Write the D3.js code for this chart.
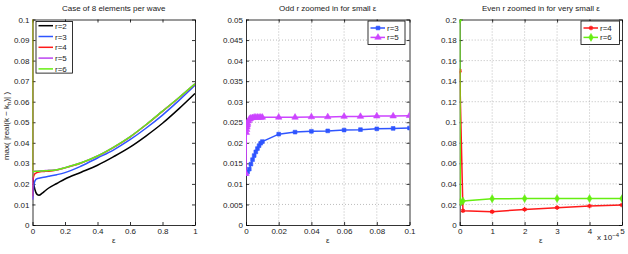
<!DOCTYPE html>
<html>
<head>
<meta charset="utf-8">
<script src="https://cdnjs.cloudflare.com/ajax/libs/d3/7.8.5/d3.min.js"></script>
<style>
body{margin:0;background:#fff}
svg{font-family:"Liberation Sans",Arial,sans-serif;font-size:8px}
</style>
</head>
<body>
<svg id="chart" width="628" height="254"></svg>
<script>
// ---- panel 1 : whole eps range 0..1
var eps1 = [0, 0.00001, 0.0005, 0.002, 0.005, 0.01, 0.02, 0.03, 0.04, 0.06, 0.08, 0.1, 0.15, 0.2, 0.3, 0.4, 0.5, 0.6, 0.7, 0.8, 0.9, 1.0];
var r2_1 = [0.0245, 0.0245, 0.0240, 0.0235, 0.0220, 0.0190, 0.0160, 0.0148, 0.0145, 0.0155, 0.0168, 0.0180, 0.0202, 0.0224, 0.0257, 0.0291, 0.0333, 0.0379, 0.0434, 0.0495, 0.0565, 0.0640];
var r3_1 = [0.0125, 0.0125, 0.0127, 0.0135, 0.0170, 0.0203, 0.0221, 0.0226, 0.0228, 0.0231, 0.0234, 0.0237, 0.0245, 0.0255, 0.0287, 0.0326, 0.0366, 0.0415, 0.0472, 0.0535, 0.0605, 0.0680];
var r4_1 = [0.15, 0.0140, 0.0200, 0.0215, 0.0230, 0.0243, 0.0252, 0.0256, 0.0258, 0.0260, 0.0261, 0.0262, 0.0268, 0.0278, 0.0302, 0.0335, 0.0378, 0.0428, 0.0488, 0.0553, 0.0618, 0.0686];
var r5_1 = [0.0125, 0.0125, 0.0235, 0.0256, 0.0261, 0.0262, 0.0262, 0.0262, 0.0263, 0.0264, 0.0265, 0.0266, 0.0269, 0.0279, 0.0303, 0.0336, 0.0379, 0.0429, 0.0489, 0.0554, 0.0619, 0.0687];
var r6_1 = [0.2, 0.0235, 0.0260, 0.0260, 0.0260, 0.0260, 0.0261, 0.0261, 0.0262, 0.0263, 0.0264, 0.0265, 0.0269, 0.0279, 0.0303, 0.0336, 0.0379, 0.0429, 0.0489, 0.0554, 0.0619, 0.0687];

// ---- panel 2 : odd r, small eps
var eps3 = [0, 0.001, 0.002, 0.003, 0.004, 0.005, 0.006, 0.007, 0.008, 0.009, 0.01, 0.02, 0.03, 0.04, 0.05, 0.06, 0.07, 0.08, 0.09, 0.1];
var r3_2 = [0.0125, 0.0129, 0.0136, 0.0148, 0.0159, 0.0169, 0.0178, 0.0186, 0.0193, 0.0199, 0.0203, 0.0221, 0.0226, 0.0228, 0.0229, 0.0231, 0.0232, 0.0234, 0.0235, 0.0236, 0.0237];
var eps5 = [0, 0.0002, 0.0004, 0.0006, 0.0008, 0.001, 0.0015, 0.002, 0.0025, 0.003, 0.004, 0.005, 0.006, 0.007, 0.008, 0.009, 0.01, 0.02, 0.03, 0.04, 0.05, 0.06, 0.07, 0.08, 0.09, 0.1];
var r5_2 = [0.0125, 0.0225, 0.0232, 0.0238, 0.0243, 0.0247, 0.0253, 0.0257, 0.0259, 0.0260, 0.0261, 0.0262, 0.0262, 0.0262, 0.0262, 0.0262, 0.0262, 0.0262, 0.0262, 0.0263, 0.0263, 0.0264, 0.0264, 0.0265, 0.0265, 0.0266];

// ---- panel 3 : even r, very small eps (x 1e-4)
var eps4 = [0, 0.1, 1, 2, 3, 4, 5];
var r4_3 = [0.15, 0.0138, 0.0130, 0.0152, 0.0169, 0.0185, 0.0195];
var eps6 = [0, 0.02, 0.1, 1, 2, 3, 4, 5];
var r6_3 = [0.2, 0.0224, 0.0233, 0.0256, 0.0257, 0.0257, 0.0257, 0.0257];

var titles = ["Case of 8 elements per wave", "Odd r zoomed in for small \u03b5", "Even r zoomed in for very small \u03b5"];
var xTicks1 = [0, 0.2, 0.4, 0.6, 0.8, 1];
var yTicks1 = d3.range(0, 0.1001, 0.01);
var xTicks2 = [0, 0.02, 0.04, 0.06, 0.08, 0.1];
var yTicks2 = d3.range(0, 0.05001, 0.005);
var xTicks3 = [0, 1, 2, 3, 4, 5];
var yTicks3 = d3.range(0, 0.2001, 0.02);

var col = {r2: "#000000", r3: "#2f55ff", r4: "#ff1a1a", r5: "#bb44f0", r6: "#66ee11"};
var fmt = function(d) { return d === 0 ? "0" : String(+d.toFixed(4)); };

var svg = d3.select("#chart");
var plotTop = 19.5, plotBottom = 225;

function zip(xs, ys) { return xs.map(function(x, i) { return [x, ys[i]]; }); }

function panel(id, left, right, xdom, ydom, xt, yt, grid) {
  var x = d3.scaleLinear().domain(xdom).range([left, right]);
  var y = d3.scaleLinear().domain(ydom).range([plotBottom, plotTop]);
  var g = svg.append("g");

  svg.append("clipPath").attr("id", "clip" + id)
    .append("rect").attr("x", left).attr("y", plotTop).attr("width", right - left).attr("height", plotBottom - plotTop);

  if (grid) {
    g.selectAll(".gx").data(xt.slice(1, -1)).enter().append("line")
      .attr("x1", d => x(d)).attr("x2", d => x(d)).attr("y1", plotTop).attr("y2", plotBottom)
      .attr("stroke", "#a0a0a0").attr("stroke-width", 0.7).attr("stroke-dasharray", "1,2");
    g.selectAll(".gy").data(yt.slice(1, -1)).enter().append("line")
      .attr("x1", left).attr("x2", right).attr("y1", d => y(d)).attr("y2", d => y(d))
      .attr("stroke", "#a0a0a0").attr("stroke-width", 0.7).attr("stroke-dasharray", "1,2");
  }

  var ax = [
    d3.axisBottom(x).tickValues(xt).tickFormat(fmt).tickSizeInner(-3).tickSizeOuter(0).tickPadding(3),
    d3.axisLeft(y).tickValues(yt).tickFormat(fmt).tickSizeInner(-3).tickSizeOuter(0).tickPadding(3),
    d3.axisTop(x).tickValues(xt).tickFormat("").tickSizeInner(-3).tickSizeOuter(0),
    d3.axisRight(y).tickValues(yt).tickFormat("").tickSizeInner(-3).tickSizeOuter(0)
  ];
  var pos = ["translate(0," + plotBottom + ")", "translate(" + left + ",0)", "translate(0," + plotTop + ")", "translate(" + right + ",0)"];
  ax.forEach(function(a, i) {
    var s = g.append("g").attr("transform", pos[i]).call(a);
    s.attr("font-family", null).attr("font-size", null);
    s.selectAll("text").attr("fill", "#222");
    s.selectAll("path,line").attr("stroke", "#000").attr("stroke-width", 0.8);
  });

  g.append("text").attr("x", (left + right) / 2).attr("y", 11).attr("text-anchor", "middle")
    .attr("fill", "#222").text(titles[id]);
  g.append("text").attr("x", (left + right) / 2).attr("y", 243).attr("text-anchor", "middle")
    .attr("fill", "#222").text("\u03b5");

  return {x: x, y: y, g: g, clip: "url(#clip" + id + ")"};
}

function series(p, pts, color, curve, sym, symSize) {
  var line = d3.line().x(d => p.x(d[0])).y(d => p.y(d[1])).curve(curve || d3.curveLinear);
  var gg = p.g.append("g").attr("clip-path", p.clip);
  gg.append("path").datum(pts).attr("d", line).attr("fill", "none")
    .attr("stroke", color).attr("stroke-width", 1.5);
  if (sym) {
    var isLine = sym === d3.symbolAsterisk;
    gg.selectAll(".m").data(pts).enter().append("path")
      .attr("transform", d => "translate(" + p.x(d[0]) + "," + p.y(d[1]) + ")")
      .attr("d", d3.symbol().type(sym).size(symSize))
      .attr("fill", isLine ? "none" : color)
      .attr("stroke", color).attr("stroke-width", isLine ? 1.4 : 0.6);
  }
}

// step / pad differ a bit between the big and small legends
function legend(p, x0, y0, w, step, pad, items) {
  var h = (items.length - 1) * step + 2 * pad;
  p.g.append("rect").attr("x", x0).attr("y", y0).attr("width", w).attr("height", h)
    .attr("fill", "#fff").attr("stroke", "#000").attr("stroke-width", 0.8);
  items.forEach(function(it, i) {
    var yy = y0 + pad + i * step;
    p.g.append("line").attr("x1", x0 + 2.5).attr("x2", x0 + 17).attr("y1", yy).attr("y2", yy)
      .attr("stroke", it.color).attr("stroke-width", 1.5);
    if (it.sym) {
      var isLine = it.sym === d3.symbolAsterisk;
      p.g.append("path").attr("transform", "translate(" + (x0 + 10) + "," + yy + ")")
        .attr("d", d3.symbol().type(it.sym).size(it.size))
        .attr("fill", isLine ? "none" : it.color).attr("stroke", it.color).attr("stroke-width", isLine ? 1.4 : 0.6);
    }
    p.g.append("text").attr("x", x0 + 19).attr("y", yy + 3).attr("fill", "#222").text(it.label);
  });
}

// panel 1
var p1 = panel(0, 32.5, 195, [0, 1], [0, 0.1], xTicks1, yTicks1, false);
series(p1, zip(eps1, r2_1), col.r2, d3.curveMonotoneX);
series(p1, zip(eps1, r3_1), col.r3, d3.curveMonotoneX);
series(p1, zip(eps1, r4_1), col.r4, d3.curveMonotoneX);
series(p1, zip(eps1, r5_1), col.r5, d3.curveMonotoneX);
series(p1, zip(eps1, r6_1), col.r6, d3.curveMonotoneX);
legend(p1, 36, 21.5, 36.5, 10.8, 4.2, [
  {label: "r=2", color: col.r2}, {label: "r=3", color: col.r3}, {label: "r=4", color: col.r4},
  {label: "r=5", color: col.r5}, {label: "r=6", color: col.r6}
]);

var ylab = svg.append("text").attr("transform", "translate(9,126) rotate(-90)")
  .attr("text-anchor", "middle").attr("fill", "#222");
ylab.append("tspan").text("max( |real(k \u2212 k");
ylab.append("tspan").attr("dy", 2).style("font-size", "6px").text("h");
ylab.append("tspan").attr("dy", -2).text(")| )");

// panel 2
var p2 = panel(1, 246, 409.5, [0, 0.1], [0, 0.05], xTicks2, yTicks2, true);
series(p2, zip(eps3, r3_2), col.r3, null, d3.symbolSquare, 14);
series(p2, zip(eps5, r5_2), "#cc44ff", null, d3.symbolTriangle, 18);
legend(p2, 368, 21, 37, 9.4, 7, [
  {label: "r=3", color: col.r3, sym: d3.symbolSquare, size: 14},
  {label: "r=5", color: "#cc44ff", sym: d3.symbolTriangle, size: 18}
]);

// panel 3
var p3 = panel(2, 459.7, 622, [0, 5], [0, 0.2], xTicks3, yTicks3, true);
series(p3, zip(eps4, r4_3), col.r4, null, d3.symbolAsterisk, 14);
series(p3, zip(eps6, r6_3), col.r6, null, d3.symbolDiamond, 18);
legend(p3, 581, 21, 38.5, 9.4, 7, [
  {label: "r=4", color: col.r4, sym: d3.symbolAsterisk, size: 14},
  {label: "r=6", color: col.r6, sym: d3.symbolDiamond, size: 18}
]);

var mult = svg.append("text").attr("x", 597).attr("y", 240).attr("fill", "#222");
mult.append("tspan").text("x 10");
mult.append("tspan").attr("dy", -3).style("font-size", "6px").text("\u22124");
</script>
</body>
</html>
